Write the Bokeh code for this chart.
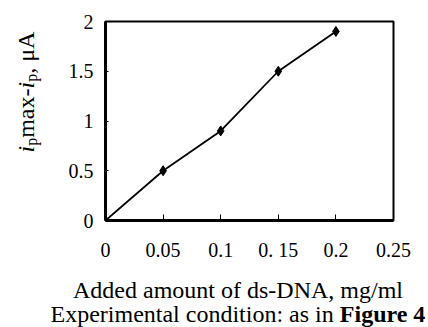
import math
from bokeh.plotting import figure
from bokeh.models import Range1d, FixedTicker, Label, ColumnDataSource
from bokeh.layouts import row, column
from bokeh.embed import file_html
from bokeh.resources import INLINE

# data
dna_amount = [0.0, 0.05, 0.1, 0.15, 0.2]
current_diff = [0.0, 0.5, 0.9, 1.5, 1.9]
x_ticks = [0, 0.05, 0.1, 0.15, 0.2, 0.25]
x_tick_labels = ["0", "0.05", "0.1", "0. 15", "0.2", "0.25"]
y_ticks = [0, 0.5, 1, 1.5, 2]
y_tick_labels = ["0", "0.5", "1", "1.5", "2"]

SERIF = "Liberation Serif"

W, H = 428, 327          # whole drawing (page px, canvas at 0,0)
YL_W = 50                # width of the y-title strip
H1 = 268                 # height of top row (plot)
H2 = H - H1              # height of bottom text strip
MW = W - YL_W            # main figure width
FL, FR, FT, FB = 105 - YL_W, 393 - YL_W, 21, 220  # frame edges in main fig px


def blank(w, h):
    f = figure(width=w, height=h, output_backend="svg", toolbar_location=None,
               x_range=Range1d(0, 1), y_range=Range1d(0, 1),
               x_axis_type=None, y_axis_type=None, min_border=0)
    f.grid.visible = False
    f.outline_line_color = None
    f.background_fill_color = "white"
    f.border_fill_color = "white"
    return f


p = figure(width=MW, height=H1, output_backend="svg", toolbar_location=None,
           x_range=Range1d(0.0, 0.25), y_range=Range1d(0.0, 2.0),
           min_border_left=FL, min_border_right=MW - FR,
           min_border_top=FT, min_border_bottom=H1 - FB)
p.grid.visible = False
p.outline_line_color = "black"
p.outline_line_width = 2
p.background_fill_color = "white"
p.border_fill_color = "white"

p.xaxis.ticker = FixedTicker(ticks=x_ticks)
p.xaxis.major_label_overrides = {t: l for t, l in zip(x_ticks, x_tick_labels)}
p.yaxis.ticker = FixedTicker(ticks=y_ticks)
p.yaxis.major_label_overrides = {t: l for t, l in zip(y_ticks, y_tick_labels)}

for ax in (p.xaxis[0], p.yaxis[0]):
    ax.axis_line_color = "black"
    ax.axis_line_width = 3
    ax.major_label_text_font = SERIF
    ax.major_label_text_font_size = "20px"
    ax.major_label_text_color = "black"
    ax.minor_tick_line_color = None
    ax.major_tick_line_color = "black"
    ax.major_tick_line_width = 1

p.xaxis.major_tick_in = 6
p.xaxis.major_tick_out = 0
p.xaxis.major_label_standoff = 18
p.yaxis.major_tick_in = 3
p.yaxis.major_tick_out = 0
p.yaxis.major_label_standoff = 12

src = ColumnDataSource(dict(x=dna_amount, y=current_diff))
p.line("x", "y", source=src, line_color="black", line_width=1.8)
p.scatter("x", "y", source=src, marker="diamond", size=10,
          fill_color="black", line_color="black")

# ---- y title strip ----
yl = blank(YL_W, H1)

def ylab(text, px, py, size="24px", style="normal"):
    yl.add_layout(Label(x=px, y=H1 - py, x_units="screen", y_units="screen",
                        text=text, text_font=SERIF, text_font_size=size,
                        text_font_style=style, text_align="left",
                        text_baseline="alphabetic", text_color="black",
                        angle=math.pi / 2))

base_x, sub_x = 25, 31
yy = 200
ylab("i", base_x, yy, style="italic"); yy -= 6.7
ylab("p", sub_x, yy, size="16px"); yy -= 8
ylab("max-", base_x, yy); yy -= 49.3
ylab("i", base_x, yy, style="italic"); yy -= 6.7
ylab("p", sub_x, yy, size="16px"); yy -= 8
ylab(", \u03bcA", base_x, yy)

# ---- x title strip ----
xt = blank(W, H2)

def xlab(text, px, py, style="normal", align="left"):
    xt.add_layout(Label(x=px, y=H2 - (py - H1), x_units="screen", y_units="screen",
                        text=text, text_font=SERIF, text_font_size="24px",
                        text_font_style=style, text_align=align,
                        text_baseline="alphabetic", text_color="black"))

xlab("Added amount of ds-DNA, mg/ml", 237.5, 289, align="center")
xlab("Experimental condition: as in ", 50, 313)
xlab("Figure 4", 339.3, 313, style="bold")

layout = column(row(yl, p, spacing=0), xt, spacing=0)

open("out.html", "w").write(file_html(layout, INLINE))
